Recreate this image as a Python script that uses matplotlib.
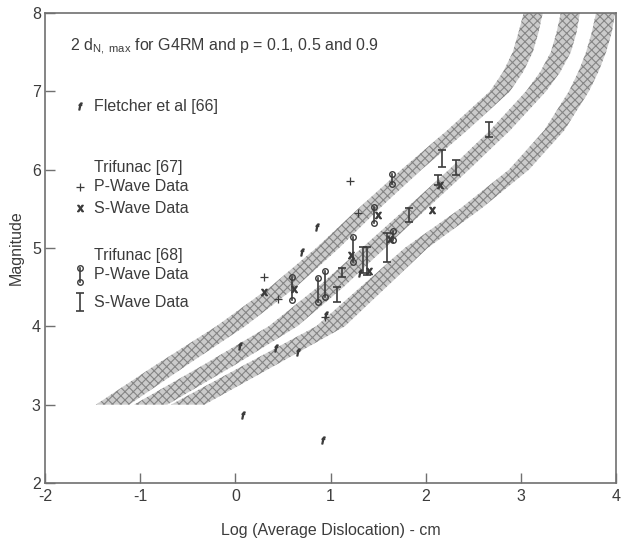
import numpy as np
import matplotlib
matplotlib.use('Agg')
import matplotlib.pyplot as plt

plt.rcParams['font.family'] = ['Liberation Sans', 'DejaVu Sans']
plt.rcParams['mathtext.fontset'] = 'custom'
plt.rcParams['mathtext.rm'] = 'Liberation Sans'
plt.rcParams['mathtext.it'] = 'Liberation Sans:italic'
plt.rcParams['hatch.linewidth'] = 0.8

# shaded bands: x (log dislocation) of band centre at each magnitude
band_mag = [3.0, 3.5, 4.0, 4.5, 5.0, 5.5, 6.0, 6.5, 7.0, 7.25, 7.5, 7.75, 8.0]
band1_x = [-1.29, -0.68, -0.05, 0.50, 0.97, 1.40, 1.85, 2.33, 2.78, 2.92, 3.02, 3.08, 3.13]
band2_x = [-0.89, -0.18, 0.50, 1.00, 1.45, 1.90, 2.35, 2.78, 3.16, 3.31, 3.42, 3.48, 3.52]
band3_x = [-0.50, 0.25, 1.00, 1.45, 1.90, 2.47, 2.98, 3.35, 3.61, 3.71, 3.79, 3.85, 3.89]
band_width = [0.35, 0.33, 0.30, 0.27, 0.24, 0.22, 0.21, 0.21, 0.21, 0.21, 0.21, 0.21, 0.20]

# Fletcher et al [66]
fl_x = [0.08, 0.66, 0.05, 0.43, 0.86, 0.70, 0.95, 1.31, 0.92]
fl_m = [2.87, 3.67, 3.75, 3.72, 5.27, 4.95, 4.14, 4.68, 2.55]

# Trifunac [67]
p67_x = [1.20, 1.29, 0.30, 0.94, 0.45]
p67_m = [5.85, 5.45, 4.63, 4.12, 4.35]
s67_x = [2.07, 2.15, 1.50, 1.22, 0.30, 0.62, 1.40, 1.62]
s67_m = [5.49, 5.80, 5.42, 4.91, 4.44, 4.48, 4.70, 5.12]

# Trifunac [68] P-wave ranges
p68_x = [1.65, 1.46, 1.24, 0.60, 0.87, 0.94, 1.66]
p68_lo = [5.82, 5.32, 4.82, 4.34, 4.31, 4.38, 5.10]
p68_hi = [5.95, 5.52, 5.14, 4.63, 4.62, 4.70, 5.22]

# Trifunac [68] S-wave ranges
s68_x = [2.67, 2.17, 2.32, 2.13, 1.83, 1.59, 1.34, 1.38, 1.07, 1.12]
s68_lo = [6.42, 6.04, 5.93, 5.80, 5.33, 4.82, 4.68, 4.66, 4.31, 4.63]
s68_hi = [6.61, 6.25, 6.12, 5.93, 5.51, 5.19, 5.01, 5.01, 4.50, 4.75]

ink = '#3c3c3c'
frame = '#707070'
fs = 11.5

fig = plt.figure(figsize=(6.24, 5.39), dpi=100)
ax = fig.add_axes([0.0721, 0.1039, 0.9151, 0.872])

mag = np.array(band_mag)
w = np.array(band_width) / 2
for bx in (band1_x, band2_x, band3_x):
    bx = np.array(bx)
    ax.fill_betweenx(mag, bx - w, bx + w, facecolor='#cbcbcb',
                     edgecolor='#858585', hatch='xxxx', linewidth=0, zorder=1)

sx = r'$\mathregular{x}$'
ax.plot(fl_x, fl_m, linestyle='none', marker='$f$', ms=5, color=ink, zorder=3)
ax.plot(p67_x, p67_m, linestyle='none', marker='+', ms=6, mew=0.9, color=ink, zorder=3)
ax.plot(s67_x, s67_m, linestyle='none', marker=sx, ms=4.5, color=ink, zorder=3)
for x, lo, hi in zip(p68_x, p68_lo, p68_hi):
    ax.plot([x, x], [lo, hi], '-o', color=ink, ms=4, mfc='none', mew=1.0, lw=1.2, zorder=3)
s68_mid = (np.array(s68_lo) + np.array(s68_hi)) / 2
s68_half = (np.array(s68_hi) - np.array(s68_lo)) / 2
ax.errorbar(s68_x, s68_mid, yerr=s68_half, fmt='none', ecolor=ink,
            elinewidth=1.2, capsize=3, capthick=1.2, zorder=3)

# legend block
tx = 0.086
mx = 0.061
ax.text(0.044, 0.928, r'2 d$_{\mathregular{N,\ max}}$ for G4RM and p = 0.1, 0.5 and 0.9',
        transform=ax.transAxes, fontsize=fs, color=ink, va='center')
ax.plot([mx], [0.802], transform=ax.transAxes, marker='$f$', ms=5, color=ink, linestyle='none')
ax.text(tx, 0.802, 'Fletcher et al [66]', transform=ax.transAxes, fontsize=fs, color=ink, va='center')
ax.text(tx, 0.672, 'Trifunac [67]', transform=ax.transAxes, fontsize=fs, color=ink, va='center')
ax.plot([mx], [0.630], transform=ax.transAxes, marker='+', ms=6, mew=0.9, color=ink, linestyle='none')
ax.text(tx, 0.630, 'P-Wave Data', transform=ax.transAxes, fontsize=fs, color=ink, va='center')
ax.plot([mx], [0.585], transform=ax.transAxes, marker=sx, ms=4.5, color=ink, linestyle='none')
ax.text(tx, 0.585, 'S-Wave Data', transform=ax.transAxes, fontsize=fs, color=ink, va='center')
ax.text(tx, 0.485, 'Trifunac [68]', transform=ax.transAxes, fontsize=fs, color=ink, va='center')
ax.plot([mx, mx], [0.428, 0.458], '-o', transform=ax.transAxes, color=ink, ms=4,
        mfc='none', mew=1.0, lw=1.2)
ax.text(tx, 0.443, 'P-Wave Data', transform=ax.transAxes, fontsize=fs, color=ink, va='center')
ax.errorbar([mx], [0.385], yerr=[0.02], transform=ax.transAxes, fmt='none', ecolor=ink,
            elinewidth=1.2, capsize=3, capthick=1.2)
ax.text(tx, 0.385, 'S-Wave Data', transform=ax.transAxes, fontsize=fs, color=ink, va='center')

ax.set_xlim(-2, 4)
ax.set_ylim(2, 8)
ax.set_xticks([-2, -1, 0, 1, 2, 3, 4])
ax.set_xticklabels(['-2', '-1', '0', '1', '2', '3', '4'])
ax.set_yticks([2, 3, 4, 5, 6, 7, 8])
ax.tick_params(direction='in', length=7, width=1.0, color=frame, labelcolor=ink,
               labelsize=fs, top=False, right=False)
ax.tick_params(axis='x', pad=4)
ax.tick_params(axis='y', pad=3)
for s in ax.spines.values():
    s.set_color(frame)
    s.set_linewidth(1.2)

ax.set_xlabel('Log (Average Dislocation) - cm', fontsize=fs, color=ink, labelpad=14)
ax.set_ylabel('Magnitude', fontsize=fs, color=ink, labelpad=6)

fig.savefig('out.png', dpi=100, facecolor='white')
